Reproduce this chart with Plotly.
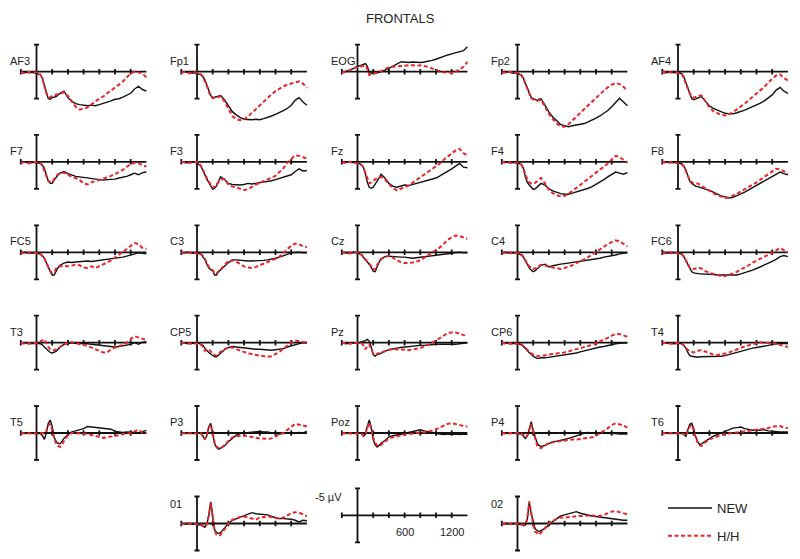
import plotly.graph_objects as go

W, H = 800, 559

# time base (ms) shared by all waveforms
TIMES = [-200, -150, -100, -50, 0, 50, 75, 100, 125, 150, 175, 200, 225, 250, 275, 300,
         350, 400, 450, 500, 550, 600, 650, 700, 750, 800, 850, 900, 950, 1000, 1050,
         1100, 1150, 1200, 1250, 1300, 1350, 1400]

# amplitudes in µV, negative plotted up
AF3_NEW = [0.2, 0.1, 0.2, 0.1, 0.3, 0.6, 1.2, 2.5, 4.0, 5.0, 5.1, 4.8, 4.7, 4.6, 4.3, 4.0, 3.6, 4.8, 5.5, 5.9, 6.1, 6.2, 6.3, 6.2, 6.3, 6.1, 5.9, 5.7, 5.4, 5.1, 5.0, 4.7, 4.4, 4.0, 3.2, 2.7, 3.3, 3.6]
AF3_HH = [0.1, 0.3, 0.0, 0.2, 0.1, 0.5, 1.4, 2.8, 4.0, 4.7, 4.8, 4.5, 4.4, 4.3, 4.1, 4.0, 3.8, 4.5, 5.6, 6.5, 7.0, 6.9, 6.6, 6.0, 5.5, 5.0, 4.6, 4.0, 3.5, 3.0, 2.4, 1.8, 1.1, 0.3, 0.0, 0.2, 0.3, 1.1]
FP1_NEW = [0.1, 0.0, 0.2, 0.3, 0.3, 0.6, 0.9, 1.5, 2.4, 3.5, 4.4, 4.8, 4.7, 4.6, 4.5, 4.4, 5.2, 6.4, 7.4, 8.0, 8.5, 8.8, 8.9, 8.9, 8.8, 8.9, 8.7, 8.5, 8.2, 7.9, 7.6, 7.2, 6.8, 6.2, 5.3, 4.8, 5.6, 6.2]
FP1_HH = [0.2, 0.0, 0.3, 0.1, 0.2, 0.5, 0.9, 1.6, 2.6, 3.7, 4.5, 4.9, 4.8, 4.7, 4.6, 4.6, 5.5, 7.0, 8.2, 8.8, 9.0, 8.8, 8.3, 7.6, 6.9, 6.2, 5.5, 4.8, 4.2, 3.6, 3.1, 2.7, 2.4, 2.2, 1.9, 1.8, 2.2, 3.0]
EOG_NEW = [0.2, 0.0, -0.3, -0.6, -1.0, -1.2, -1.3, -1.5, -1.0, 0.1, 0.3, 0.3, 0.2, 0.2, 0.1, 0.0, -0.3, -0.6, -1.0, -1.4, -1.8, -1.8, -1.7, -1.8, -1.7, -1.7, -1.8, -1.9, -2.1, -2.3, -2.6, -2.9, -3.1, -3.3, -3.5, -3.6, -3.9, -4.6]
EOG_HH = [0.2, 0.0, -0.3, -0.6, -0.9, -1.0, -1.0, -1.1, -0.5, 0.6, 0.5, 0.4, 0.3, 0.2, 0.1, -0.1, -0.5, -0.8, -0.9, -1.0, -1.0, -1.1, -1.2, -1.2, -1.1, -1.2, -1.1, -0.9, -0.6, -0.3, -0.1, 0.1, 0.2, 0.2, 0.0, -0.4, -0.9, -1.8]
FP2_NEW = [0.2, 0.0, 0.1, 0.3, 0.3, 0.7, 1.2, 2.0, 3.0, 4.0, 4.8, 5.0, 5.2, 5.3, 5.1, 5.0, 6.2, 7.5, 8.4, 9.1, 9.8, 10.0, 10.2, 10.0, 9.9, 9.8, 9.6, 9.3, 9.0, 8.6, 8.2, 7.7, 7.2, 6.5, 5.6, 4.9, 5.6, 6.3]
FP2_HH = [0.1, 0.2, 0.0, 0.2, 0.2, 0.6, 1.3, 2.2, 3.2, 4.2, 4.9, 5.1, 5.3, 5.4, 5.3, 5.2, 6.5, 7.8, 8.8, 9.6, 10.1, 10.2, 9.7, 9.0, 8.3, 7.6, 6.9, 6.2, 5.5, 4.8, 4.1, 3.5, 2.9, 2.4, 2.1, 2.3, 2.8, 3.5]
AF4_NEW = [0.1, 0.2, 0.0, 0.2, 0.1, 0.4, 1.0, 2.0, 3.2, 4.3, 5.0, 5.2, 5.1, 4.9, 4.7, 4.6, 5.5, 6.3, 6.8, 7.1, 7.4, 7.7, 7.8, 7.8, 7.6, 7.4, 7.1, 6.8, 6.5, 6.2, 5.8, 5.4, 4.9, 4.3, 3.4, 2.9, 3.6, 4.0]
AF4_HH = [0.0, 0.2, 0.1, 0.1, 0.2, 0.5, 1.2, 2.2, 3.2, 4.0, 4.6, 4.8, 4.7, 4.5, 4.4, 4.4, 5.6, 6.6, 7.3, 7.7, 8.0, 8.1, 7.9, 7.5, 7.0, 6.5, 5.9, 5.3, 4.7, 4.0, 3.4, 2.8, 2.0, 1.3, 0.7, 0.5, 1.2, 1.6]

F7_NEW = [0.1, 0.0, 0.2, 0.1, 0.2, 0.3, 0.6, 1.2, 2.4, 3.6, 4.0, 4.0, 3.4, 2.8, 2.4, 2.1, 1.8, 2.2, 2.5, 2.7, 2.8, 2.9, 3.0, 3.2, 3.3, 3.4, 3.4, 3.3, 3.3, 3.2, 3.0, 2.9, 2.7, 2.4, 2.1, 2.4, 2.0, 1.9]
F7_HH = [0.2, 0.1, 0.3, 0.0, 0.1, 0.2, 0.7, 1.5, 2.6, 3.5, 3.8, 3.8, 3.2, 2.6, 2.3, 2.1, 2.0, 2.4, 2.8, 3.0, 3.4, 4.0, 4.2, 3.8, 3.6, 3.4, 3.2, 2.9, 2.6, 2.3, 1.9, 1.5, 1.0, 0.4, 0.2, 0.3, 0.6, 0.9]
F3_NEW = [0.0, 0.2, 0.1, 0.0, 0.2, 0.8, 1.6, 2.6, 3.2, 3.8, 4.6, 5.1, 4.9, 4.4, 3.6, 2.8, 3.3, 4.0, 4.2, 4.3, 4.3, 4.2, 4.0, 4.1, 4.0, 3.9, 3.8, 3.7, 3.5, 3.3, 3.1, 2.9, 2.6, 2.4, 1.8, 1.3, 1.7, 1.6]
F3_HH = [0.1, 0.0, 0.2, 0.1, 0.0, 0.7, 1.5, 2.4, 3.0, 3.6, 4.3, 4.8, 4.6, 4.2, 3.6, 3.3, 3.2, 4.2, 4.6, 4.7, 5.0, 5.2, 5.1, 4.6, 4.2, 3.9, 3.6, 3.3, 3.0, 2.6, 1.9, 1.2, 0.2, -0.5, -1.2, -1.1, -0.8, -0.6]
FZ_NEW = [0.2, 0.0, 0.1, 0.2, 0.2, 0.5, 1.0, 2.2, 3.8, 4.7, 4.9, 4.7, 4.2, 3.7, 3.0, 2.3, 3.0, 4.0, 4.5, 4.7, 4.5, 4.3, 4.4, 4.2, 4.0, 3.9, 3.7, 3.5, 3.2, 3.0, 2.6, 2.2, 1.8, 1.3, 0.8, 0.3, 1.0, 1.1]
FZ_HH = [0.1, 0.2, 0.0, 0.1, 0.3, 0.6, 1.0, 2.0, 3.2, 4.0, 3.8, 3.5, 3.2, 3.0, 2.9, 2.8, 3.3, 4.2, 4.9, 5.3, 5.0, 4.8, 4.4, 3.9, 3.4, 2.9, 2.4, 1.9, 1.4, 0.9, 0.3, -0.4, -1.0, -1.6, -2.1, -2.4, -1.6, -1.2]
F4_NEW = [0.1, 0.0, 0.2, 0.2, 0.1, 0.6, 1.2, 2.8, 3.8, 4.3, 4.8, 5.1, 5.0, 4.7, 4.3, 4.0, 4.3, 5.0, 5.4, 5.7, 5.9, 6.0, 6.0, 5.8, 5.6, 5.4, 5.2, 4.9, 4.6, 4.2, 3.8, 3.3, 2.8, 2.3, 1.9, 2.1, 2.3, 2.0]
F4_HH = [0.0, 0.2, 0.1, 0.3, 0.1, 0.5, 1.2, 2.5, 3.3, 3.8, 4.0, 4.0, 3.9, 3.6, 3.3, 3.0, 4.0, 5.2, 5.8, 6.2, 6.4, 6.3, 5.9, 5.4, 4.8, 4.3, 3.7, 3.2, 2.6, 2.0, 1.5, 0.9, 0.3, -0.4, -1.1, -0.9, -0.4, 0.2]
F8_NEW = [0.1, 0.0, 0.2, 0.1, 0.2, 0.4, 0.8, 1.5, 2.6, 3.6, 4.0, 4.3, 4.5, 4.6, 4.7, 4.8, 5.0, 5.3, 5.6, 6.0, 6.3, 6.5, 6.7, 6.6, 6.3, 6.0, 5.6, 5.2, 4.8, 4.4, 4.0, 3.6, 3.2, 2.8, 2.3, 1.9, 2.2, 2.4]
F8_HH = [0.0, 0.2, 0.1, 0.1, 0.3, 0.5, 0.9, 1.7, 2.6, 3.4, 3.8, 4.0, 4.0, 4.0, 4.2, 4.5, 4.9, 5.4, 5.8, 6.2, 6.5, 6.7, 6.6, 6.3, 5.9, 5.5, 5.1, 4.7, 4.2, 3.8, 3.3, 2.8, 2.3, 1.8, 1.3, 1.4, 1.8, 2.1]

FC5_NEW = [0.1, 0.0, 0.2, 0.1, 0.1, 0.4, 0.6, 1.1, 1.8, 2.7, 3.6, 4.2, 4.2, 3.4, 2.8, 2.4, 2.0, 1.8, 1.9, 1.8, 1.7, 1.7, 1.6, 1.7, 1.6, 1.6, 1.5, 1.4, 1.3, 1.2, 1.1, 0.9, 0.7, 0.5, 0.3, 0.1, 0.2, 0.3]
FC5_HH = [0.2, 0.1, 0.0, 0.2, 0.1, 0.3, 0.7, 1.2, 1.9, 2.8, 3.5, 3.8, 3.7, 3.0, 2.7, 2.6, 2.5, 2.6, 2.4, 2.3, 2.4, 2.8, 2.9, 2.6, 2.9, 2.6, 2.3, 1.9, 1.5, 1.0, 0.5, 0.0, -0.6, -1.2, -1.7, -1.5, -0.8, -0.6]
C3_NEW = [0.1, 0.1, 0.0, 0.2, 0.1, 0.4, 0.8, 1.3, 2.2, 2.9, 3.2, 3.4, 4.2, 4.2, 3.6, 3.3, 2.6, 1.9, 1.4, 1.4, 1.5, 1.5, 1.6, 1.6, 1.6, 1.5, 1.5, 1.4, 1.3, 1.1, 0.9, 0.7, 0.4, 0.1, 0.0, 0.0, 0.1, 0.1]
C3_HH = [0.0, 0.2, 0.1, 0.0, 0.2, 0.3, 0.7, 1.2, 2.0, 2.7, 3.0, 3.3, 3.9, 3.9, 3.5, 3.2, 2.4, 1.6, 1.5, 1.7, 2.2, 2.6, 2.8, 2.9, 2.7, 2.4, 2.1, 1.8, 1.6, 1.2, 0.8, 0.2, -0.6, -1.2, -1.6, -1.5, -1.1, -1.0]
CZ_NEW = [0.0, 0.1, 0.2, 0.0, 0.1, 0.5, 0.9, 1.5, 1.9, 2.2, 2.8, 3.5, 3.6, 2.6, 1.8, 1.2, 0.8, 0.7, 0.8, 0.8, 0.9, 0.9, 1.0, 1.1, 1.0, 0.9, 0.8, 0.7, 0.6, 0.5, 0.4, 0.3, 0.2, 0.1, 0.1, 0.0, 0.1, 0.1]
CZ_HH = [0.1, 0.0, 0.2, 0.1, 0.0, 0.4, 0.8, 1.3, 1.7, 2.0, 2.6, 3.1, 3.2, 2.3, 1.7, 1.3, 0.8, 0.7, 1.0, 1.4, 1.8, 2.0, 2.0, 1.9, 1.7, 1.5, 1.0, 0.5, 0.0, -0.4, -0.9, -1.6, -2.3, -2.8, -3.1, -3.0, -2.8, -2.5]
C4_NEW = [0.1, 0.0, 0.2, 0.1, 0.2, 0.5, 0.9, 1.6, 2.3, 2.9, 3.3, 3.6, 3.4, 3.1, 2.7, 2.4, 2.2, 2.7, 2.5, 2.3, 2.2, 2.1, 2.0, 1.9, 1.8, 1.7, 1.6, 1.5, 1.3, 1.2, 1.1, 0.9, 0.8, 0.7, 0.5, 0.3, 0.2, 0.1]
C4_HH = [0.2, 0.1, 0.0, 0.2, 0.1, 0.4, 0.8, 1.5, 2.1, 2.6, 2.9, 3.1, 3.0, 2.7, 2.5, 2.3, 2.4, 2.6, 2.8, 3.0, 3.1, 2.9, 2.7, 2.4, 2.0, 1.7, 1.3, 0.9, 0.4, -0.1, -0.6, -1.1, -1.5, -1.9, -2.2, -2.0, -1.5, -1.1]
FC6_NEW = [0.0, 0.1, 0.2, 0.1, 0.1, 0.4, 0.8, 1.5, 2.3, 3.1, 3.6, 3.8, 3.9, 4.0, 4.0, 4.0, 4.0, 4.1, 4.1, 4.2, 4.2, 4.3, 4.3, 4.3, 4.2, 4.0, 3.8, 3.6, 3.3, 3.0, 2.7, 2.4, 2.1, 1.7, 1.3, 0.8, 0.6, 0.8]
FC6_HH = [0.1, 0.2, 0.0, 0.1, 0.2, 0.3, 0.8, 1.6, 2.3, 2.9, 3.0, 3.1, 3.0, 2.9, 2.9, 3.0, 3.5, 3.8, 4.0, 4.2, 4.4, 4.4, 4.2, 3.9, 3.6, 3.2, 2.9, 2.4, 1.9, 1.5, 1.1, 0.8, 0.5, 0.1, -0.3, -0.8, -0.4, 0.0]

T3_NEW = [0.1, 0.0, 0.2, 0.1, 0.1, 0.2, 0.4, 0.8, 1.2, 1.5, 1.8, 1.9, 1.8, 1.6, 1.2, 0.8, 0.3, 0.1, 0.0, 0.1, 0.1, 0.1, 0.2, 0.3, 0.4, 0.5, 0.6, 0.7, 0.8, 0.8, 0.7, 0.6, 0.5, 0.3, 0.0, 0.3, -0.1, -0.2]
T3_HH = [0.0, 0.2, 0.1, 0.0, 0.1, -0.3, -0.5, -0.6, 0.0, 0.8, 1.2, 1.4, 1.4, 1.3, 1.1, 0.8, 0.3, 0.0, -0.1, 0.1, 0.2, 0.4, 0.6, 0.9, 1.2, 1.5, 1.8, 1.8, 1.2, 0.9, 0.7, 0.4, 0.0, -0.7, -1.2, -1.0, -0.7, -0.5]
CP5_NEW = [0.0, 0.1, 0.2, 0.1, 0.0, 0.3, 0.5, 1.0, 1.5, 1.8, 2.1, 2.4, 2.6, 2.6, 2.3, 2.0, 1.3, 0.9, 0.7, 0.8, 0.9, 1.0, 1.1, 1.1, 1.2, 1.2, 1.3, 1.3, 1.4, 1.3, 1.2, 1.1, 0.8, 0.6, 0.3, 0.1, 0.0, 0.0]
CP5_HH = [0.1, 0.0, 0.1, 0.2, 0.1, 0.3, 0.8, 1.5, 1.3, 1.2, 1.6, 2.1, 2.3, 2.4, 2.1, 1.7, 1.2, 0.9, 0.9, 1.2, 1.5, 1.8, 2.0, 2.1, 2.3, 2.4, 2.5, 2.6, 2.5, 2.1, 1.7, 1.1, 0.5, 0.0, -0.4, -0.3, -0.1, 0.0]
PZ_NEW = [0.0, 0.2, 0.1, 0.0, 0.1, -0.1, -0.2, -0.4, -0.6, -0.3, 0.8, 2.2, 2.5, 2.2, 2.1, 1.9, 1.6, 1.3, 1.1, 1.0, 0.9, 0.8, 0.7, 0.6, 0.6, 0.5, 0.5, 0.4, 0.4, 0.3, 0.3, 0.3, 0.4, 0.4, 0.3, 0.2, 0.1, 0.0]
PZ_HH = [0.1, 0.0, 0.2, 0.1, 0.0, 0.1, 0.5, 1.2, 0.6, 0.4, 1.2, 2.0, 2.2, 2.0, 1.9, 1.8, 1.5, 1.3, 1.2, 1.2, 1.3, 1.3, 1.4, 1.3, 1.2, 1.0, 0.7, 0.4, 0.0, -0.4, -0.9, -1.4, -1.8, -1.9, -1.9, -1.7, -1.4, -1.3]
CP6_NEW = [0.1, 0.0, 0.2, 0.1, 0.1, 0.4, 0.7, 1.0, 1.5, 1.9, 2.2, 2.5, 2.7, 2.9, 2.9, 2.8, 2.8, 2.7, 2.6, 2.5, 2.4, 2.2, 2.1, 2.0, 1.9, 1.7, 1.5, 1.3, 1.1, 0.9, 0.8, 0.7, 0.5, 0.4, 0.2, 0.1, 0.0, 0.0]
CP6_HH = [0.0, 0.2, 0.1, 0.1, 0.2, 0.3, 0.6, 0.9, 1.3, 1.7, 2.0, 2.2, 2.4, 2.5, 2.5, 2.5, 2.3, 2.2, 2.1, 2.0, 2.0, 1.8, 1.6, 1.4, 1.2, 1.1, 0.9, 0.6, 0.4, 0.1, -0.2, -0.5, -0.9, -1.3, -1.6, -1.6, -1.4, -1.1]
T4_NEW = [0.1, 0.0, 0.1, 0.2, 0.1, 0.2, 0.5, 1.0, 1.8, 2.4, 2.5, 2.6, 2.6, 2.7, 2.6, 2.6, 2.6, 2.5, 2.6, 2.6, 2.5, 2.4, 2.2, 2.0, 1.7, 1.5, 1.3, 1.2, 1.0, 0.9, 0.8, 0.6, 0.5, 0.3, 0.2, 0.1, 0.1, 0.2]
T4_HH = [0.0, 0.1, 0.2, 0.1, 0.0, 0.2, 0.5, 1.0, 1.4, 1.6, 1.7, 1.8, 1.7, 1.5, 1.4, 1.4, 1.7, 1.9, 2.2, 2.3, 2.2, 2.0, 1.8, 1.5, 1.2, 0.9, 0.7, 0.5, 0.3, 0.0, -0.1, 0.0, 0.0, 0.1, 0.2, 0.4, 0.6, 0.8]

T5_NEW = [0.0, 0.1, 0.0, 0.1, 0.1, 0.1, 0.5, 1.2, 0.0, -1.8, -2.4, -1.2, 0.8, 1.6, 1.9, 2.0, 1.0, 0.3, -0.2, -0.4, -0.6, -0.8, -1.2, -1.1, -1.1, -1.0, -0.9, -0.8, -0.7, -0.3, -0.2, -0.1, -0.2, -0.2, -0.1, 0.0, -0.3, -0.5]
T5_HH = [0.1, 0.0, 0.1, 0.0, 0.1, 0.0, 0.0, 0.1, -0.4, -1.3, -1.7, -0.5, 1.0, 1.9, 2.4, 2.6, 1.4, 0.4, 0.0, 0.0, 0.0, 0.1, 0.2, 0.4, 0.5, 0.7, 0.9, 0.8, 0.7, 0.5, 0.4, 0.2, 0.1, 0.0, -0.3, -0.6, -0.1, 0.0]
P3_NEW = [0.0, 0.1, 0.0, 0.1, 0.0, 0.1, 0.6, 1.2, 0.5, -1.2, -1.8, 0.2, 2.0, 2.7, 3.0, 2.8, 2.4, 1.6, 1.0, 0.4, 0.1, 0.0, -0.1, -0.2, -0.3, -0.3, -0.2, -0.2, 0.0, 0.1, 0.2, 0.0, 0.0, 0.1, 0.0, -0.1, 0.0, -0.3]
P3_HH = [0.1, 0.0, 0.1, 0.0, 0.1, 0.0, 0.5, 1.2, 0.3, -1.0, -1.5, 0.1, 1.8, 2.5, 2.8, 2.9, 2.2, 1.4, 0.8, 0.6, 0.5, 0.5, 0.6, 0.8, 0.9, 1.0, 1.1, 1.1, 1.0, 0.6, 0.3, 0.0, -0.5, -1.1, -1.7, -1.6, -1.4, -1.2]
POZ_NEW = [0.0, 0.1, 0.0, 0.0, 0.1, 0.0, 0.6, 0.2, -1.2, -2.4, -1.0, 1.2, 2.2, 2.6, 2.3, 1.9, 1.4, 0.7, 0.5, 0.4, 0.3, 0.1, -0.1, -0.3, -0.5, -0.6, -0.4, -0.2, 0.0, 0.1, 0.2, 0.3, 0.2, 0.3, 0.2, 0.3, 0.2, 0.3]
POZ_HH = [0.1, 0.0, 0.1, 0.1, 0.0, 0.1, 0.5, 0.3, -1.0, -1.9, -0.8, 0.9, 1.8, 2.3, 2.5, 2.2, 1.5, 1.0, 0.8, 0.6, 0.5, 0.3, 0.2, 0.1, 0.0, 0.0, -0.1, -0.2, -0.4, -0.7, -1.0, -1.4, -1.7, -1.8, -1.7, -1.5, -1.3, -1.2]
P4_NEW = [0.1, 0.0, 0.1, 0.0, 0.1, 0.2, 0.6, 1.0, 0.6, -1.0, -2.1, -0.5, 0.8, 1.9, 2.3, 2.5, 2.3, 1.9, 1.6, 1.5, 1.4, 1.2, 1.0, 0.8, 0.5, 0.3, 0.0, -0.1, 0.0, 0.0, 0.1, 0.0, 0.0, 0.1, 0.1, 0.2, 0.2, 0.2]
P4_HH = [0.0, 0.1, 0.0, 0.1, 0.0, 0.1, 0.4, 0.8, 0.5, -0.8, -1.6, -0.3, 1.2, 2.3, 2.7, 2.8, 2.3, 1.9, 1.7, 1.6, 1.4, 1.3, 1.2, 1.2, 1.2, 1.1, 1.1, 1.0, 0.8, 0.5, 0.1, -0.4, -0.9, -1.5, -1.8, -1.6, -1.4, -1.0]
T6_NEW = [0.1, 0.0, 0.1, 0.0, 0.1, 0.0, 0.3, 0.6, -0.6, -1.6, -1.8, -0.8, 0.7, 1.6, 2.1, 2.0, 1.5, 1.0, 0.6, 0.3, 0.0, -0.3, -0.6, -0.9, -1.0, -1.1, -0.8, -0.6, -0.5, -0.5, -0.5, -0.6, -0.4, -0.3, -0.3, -0.2, -0.2, -0.2]
T6_HH = [0.0, 0.1, 0.0, 0.1, 0.0, 0.1, 0.2, 0.5, -0.4, -1.2, -1.5, -0.6, 0.8, 1.8, 2.3, 2.4, 1.7, 1.2, 0.9, 0.6, 0.4, 0.2, 0.1, 0.0, -0.1, -0.2, -0.3, -0.4, -0.5, -0.5, -0.6, -0.7, -0.9, -1.2, -1.3, -1.3, -1.0, -0.9]

O1_NEW = [0.0, 0.1, 0.0, 0.1, 0.1, 0.3, 0.5, 0.7, 0.2, -1.5, -4.0, -1.5, 1.2, 1.7, 1.8, 1.7, 0.8, 0.0, -0.6, -0.9, -1.2, -1.5, -1.7, -2.0, -1.8, -1.7, -1.7, -1.6, -1.3, -1.1, -0.9, -0.9, -0.9, -0.8, -0.6, -0.3, -0.6, -0.5]
O1_HH = [0.1, 0.0, 0.1, 0.0, 0.1, 0.2, 0.4, 0.6, 0.1, -1.4, -3.8, -1.2, 1.4, 2.1, 2.3, 2.1, 1.0, 0.0, -0.7, -1.0, -1.2, -1.3, -1.1, -1.0, -0.7, -1.1, -1.2, -1.3, -1.2, -1.0, -0.9, -1.1, -1.5, -1.9, -2.1, -2.0, -1.7, -1.3]
O2_NEW = [0.1, 0.0, 0.1, 0.0, 0.1, 0.2, 0.4, 0.3, -0.8, -3.9, -1.8, -0.5, 1.0, 1.3, 1.5, 1.3, 0.9, 0.3, -0.4, -0.9, -1.4, -1.6, -1.8, -2.1, -2.2, -1.9, -1.7, -1.6, -1.4, -1.3, -1.2, -1.0, -0.9, -0.8, -0.7, -0.6, -0.6, -0.6]
O2_HH = [0.0, 0.1, 0.0, 0.1, 0.0, 0.1, 0.3, 0.2, -1.0, -4.1, -2.0, 0.2, 1.5, 1.9, 2.1, 1.7, 0.8, 0.0, -0.5, -0.8, -1.1, -1.1, -1.2, -1.2, -1.3, -1.4, -1.4, -1.5, -1.5, -1.4, -1.4, -1.6, -1.9, -2.2, -2.3, -2.1, -1.9, -1.7]

# (label, NEW, H/H, column, row)
SITES = [
    ("AF3", AF3_NEW, AF3_HH, 0, 0), ("Fp1", FP1_NEW, FP1_HH, 1, 0), ("EOG", EOG_NEW, EOG_HH, 2, 0),
    ("Fp2", FP2_NEW, FP2_HH, 3, 0), ("AF4", AF4_NEW, AF4_HH, 4, 0),
    ("F7", F7_NEW, F7_HH, 0, 1), ("F3", F3_NEW, F3_HH, 1, 1), ("Fz", FZ_NEW, FZ_HH, 2, 1),
    ("F4", F4_NEW, F4_HH, 3, 1), ("F8", F8_NEW, F8_HH, 4, 1),
    ("FC5", FC5_NEW, FC5_HH, 0, 2), ("C3", C3_NEW, C3_HH, 1, 2), ("Cz", CZ_NEW, CZ_HH, 2, 2),
    ("C4", C4_NEW, C4_HH, 3, 2), ("FC6", FC6_NEW, FC6_HH, 4, 2),
    ("T3", T3_NEW, T3_HH, 0, 3), ("CP5", CP5_NEW, CP5_HH, 1, 3), ("Pz", PZ_NEW, PZ_HH, 2, 3),
    ("CP6", CP6_NEW, CP6_HH, 3, 3), ("T4", T4_NEW, T4_HH, 4, 3),
    ("T5", T5_NEW, T5_HH, 0, 4), ("P3", P3_NEW, P3_HH, 1, 4), ("Poz", POZ_NEW, POZ_HH, 2, 4),
    ("P4", P4_NEW, P4_HH, 3, 4), ("T6", T6_NEW, T6_HH, 4, 4),
    ("01", O1_NEW, O1_HH, 1, 5), ("02", O2_NEW, O2_HH, 3, 5),
]

TICK_MS = [-200, 200, 400, 600, 800, 1000, 1200]
BASE_END = 1400
SCALE_UV = 5
SCALE_LABELS = [(600, "600"), (1200, "1200")]

# layout geometry, in window pixels (the page body adds an 8 px margin)
OFF = 8
PX_MS = 0.0785
PX_UV = 5.4
COL_X = [36.5, 197.0, 357.5, 517.5, 678.0]
ROW_Y = [71.7, 161.8, 252.3, 342.7, 433.0, 523.5]
SCALE_POS = (357.5, 515.3)
X_LO, X_HI = -260, 1460
UV_UP, UV_DOWN = -6.5, 11.5

FONT = "Liberation Sans, Arial, Helvetica, sans-serif"
BLACK = "#111111"
RED = "#e8262a"


def px(x):
    return (x - OFF) / W


def py(y):
    return 1 - (y - OFF) / H


fig = go.Figure()
annotations = []


def frame_xy():
    fx, fy = [TICK_MS[0], BASE_END, None], [0, 0, None]
    for t in TICK_MS:
        fx += [t, t, None]
        fy += [-0.5, 0.5, None]
    fx += [0, 0, None]
    fy += [-SCALE_UV, SCALE_UV, None]
    for v in (-SCALE_UV, SCALE_UV):
        fx += [-32, 32, None]
        fy += [v, v, None]
    return fx, fy


def add_panel(n, cx, by):
    sfx = "" if n == 1 else str(n)
    x0 = cx + X_LO * PX_MS
    x1 = cx + X_HI * PX_MS
    top = max(by + UV_UP * PX_UV, OFF)
    bot = min(by + UV_DOWN * PX_UV, H)
    fig.layout["xaxis" + sfx] = dict(domain=[px(x0), px(x1)], range=[X_LO, X_HI],
                                     visible=False, anchor="y" + sfx, fixedrange=True)
    fig.layout["yaxis" + sfx] = dict(domain=[py(bot), py(top)],
                                     range=[(bot - by) / PX_UV, (top - by) / PX_UV],
                                     visible=False, anchor="x" + sfx, fixedrange=True)
    fx, fy = frame_xy()
    fig.add_trace(go.Scatter(x=fx, y=fy, mode="lines", line=dict(color=BLACK, width=1.8),
                             xaxis="x" + sfx, yaxis="y" + sfx, showlegend=False, hoverinfo="skip"))
    return sfx


n = 0
for label, new, hh, c, r in SITES:
    assert len(new) == len(TIMES) and len(hh) == len(TIMES), label
    n += 1
    sfx = add_panel(n, COL_X[c], ROW_Y[r])
    first = n == 1
    fig.add_trace(go.Scatter(x=TIMES, y=new, mode="lines", name="NEW", legendgroup="new",
                             line=dict(color=BLACK, width=1.4), showlegend=first,
                             xaxis="x" + sfx, yaxis="y" + sfx))
    fig.add_trace(go.Scatter(x=TIMES, y=hh, mode="lines", name="H/H", legendgroup="hh",
                             line=dict(color=RED, width=2, dash="4px,2.5px"), showlegend=first,
                             xaxis="x" + sfx, yaxis="y" + sfx))
    dy = -20 if r == 5 else -11
    annotations.append(dict(text=label, xref="paper", yref="paper",
                            x=px(COL_X[c] - 29), y=py(ROW_Y[r] + dy),
                            xanchor="left", yanchor="middle", showarrow=False,
                            font=dict(size=11, color="#222", family=FONT)))

# calibration panel
n += 1
sfx = add_panel(n, *SCALE_POS)
annotations.append(dict(text="-5 µV", xref="x" + sfx, yref="y" + sfx, x=-175, y=-3.4,
                        xanchor="right", yanchor="middle", showarrow=False,
                        font=dict(size=11, color="#222", family=FONT)))
for t, txt in SCALE_LABELS:
    annotations.append(dict(text=txt, xref="x" + sfx, yref="y" + sfx, x=t, y=3.1,
                            xanchor="center", yanchor="middle", showarrow=False,
                            font=dict(size=11, color="#222", family=FONT)))

annotations.append(dict(text="FRONTALS", xref="paper", yref="paper", x=px(400), y=py(18),
                        xanchor="center", yanchor="middle", showarrow=False,
                        font=dict(size=13, color="#222", family=FONT)))

fig.update_layout(
    width=W, height=H, margin=dict(l=0, r=0, t=0, b=0),
    paper_bgcolor="white", plot_bgcolor="rgba(0,0,0,0)",
    annotations=annotations,
    showlegend=True,
    legend=dict(x=px(663), y=py(493), xanchor="left", yanchor="top",
                font=dict(size=13, color="#222", family=FONT), bgcolor="rgba(0,0,0,0)",
                tracegroupgap=8, itemwidth=44),
)

fig.write_html("out.html")
